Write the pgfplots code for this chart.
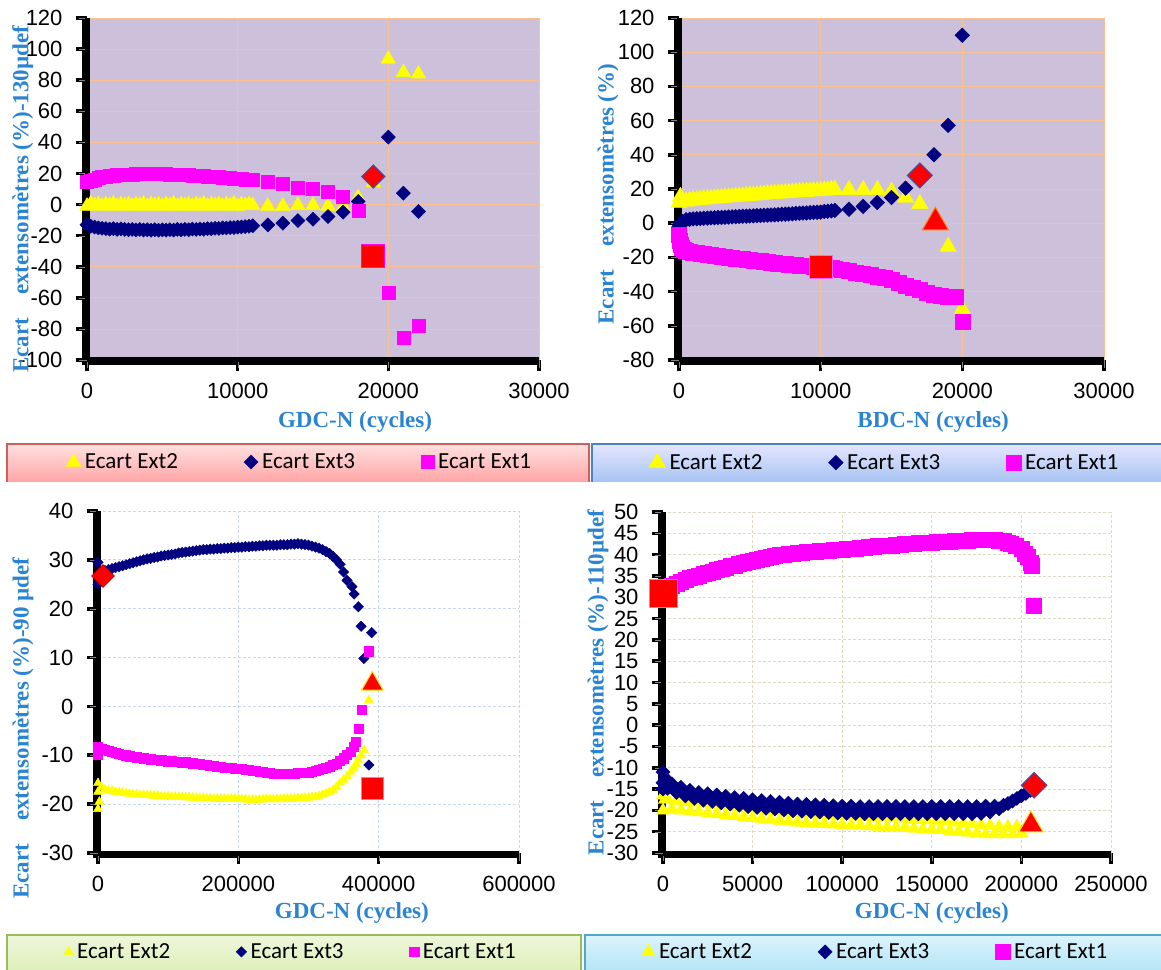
\documentclass[border=0pt]{standalone}
\usepackage{pgfplots}
\pgfplotsset{compat=1.18}
\usepackage{fontspec}
\newfontfamily\arialf{Liberation Sans}
\newfontfamily\timesf{Liberation Serif}
\newfontfamily\calf{Carlito}
\definecolor{lav}{HTML}{CCC0DA}
\definecolor{gridor}{HTML}{FAC090}
\definecolor{gridbl}{HTML}{C6D9F1}
\definecolor{gridbe}{HTML}{DDD9C3}
\definecolor{labblue}{HTML}{2A84D2}
\definecolor{yel}{HTML}{FFFF00}
\definecolor{nav}{HTML}{000080}
\definecolor{mag}{HTML}{FF00FF}
\definecolor{hred}{HTML}{FF0000}
\pgfplotsset{
  base/.style={
    scale only axis, clip=false,
    axis lines*=left,
    axis line style={line width=5pt, black, -},
    tick align=outside,
    major tick length=8pt,
    grid=major,
    scaled ticks=false,
    xticklabel style={/pgf/number format/fixed, /pgf/number format/1000 sep={}, yshift=-12pt},
    yticklabel style={xshift=-13pt},
    tick label style={font=\arialf\fontsize{22}{26}\selectfont},
    label style={font=\timesf\bfseries\fontsize{23}{27}\selectfont, text=labblue},
    ylabel style={anchor=center},
    xlabel style={anchor=center},
    legend columns=3,
    legend style={draw=none, fill=none, anchor=west,
      font=\calf\fontsize{23}{27}\selectfont, nodes={inner sep=0pt},
      /tikz/every odd column/.append style={column sep=4pt},
      /tikz/every even column/.append style={column sep=66pt}},
    /pgf/number format/assume math mode=true,
  },
  topgrid/.style={axis background/.style={fill=lav}, major grid style={gridor, line width=0.8pt}},
  s2/.style={only marks, mark=triangle*, mark options={draw=yel, fill=yel}},
  s3/.style={only marks, mark=square*, mark options={rotate=45, draw=nav, fill=nav}},
  s1/.style={only marks, mark=square*, mark options={draw=mag, fill=mag}},
}
% Excel-like thick axis frame with outside tick stubs (decoration, drawn under each axis)
% #1 x0, #2 y0, #3 width, #4 height, #5 ymin, #6 y span, #7 y tick list, #8 x tick fractions
\newcommand{\outframe}[8]{%
  \fill[black] (#1pt-5pt,#2pt-5pt) rectangle (#1pt,#2pt+#4pt+2pt);
  \fill[black] (#1pt-5pt,#2pt-5pt) rectangle (#1pt+#3pt+2pt,#2pt);
  \foreach \v in {#7}{\pgfmathsetmacro\yy{#2+(\v-(#5))/#6*#4}%
    \fill[black] (#1pt-11pt,\yy pt-1.8pt) rectangle (#1pt,\yy pt+1.8pt);}
  \foreach \f in {#8}{\pgfmathsetmacro\xx{#1+\f*#3}%
    \fill[black] (\xx pt-1.8pt,#2pt-11pt) rectangle (\xx pt+1.8pt,#2pt);}
}
\begin{document}
\begin{tikzpicture}
\useasboundingbox (0pt,0pt) rectangle (1161pt,969pt);
% legend frames
\shade[top color=red!12, bottom color=red!35!white] (7pt,525pt) rectangle (589pt,487pt);
\draw[line width=1.5pt, color={rgb,255:red,205;green,95;blue,92}] (7pt,487pt) -- (7pt,525pt) -- (589pt,525pt) -- (589pt,487pt);
\shade[top color=blue!10, bottom color={rgb,255:red,166;green,196;blue,242}] (592pt,525pt) rectangle (1165pt,487pt);
\draw[line width=1.5pt, color={rgb,255:red,79;green,129;blue,189}] (592pt,487pt) -- (592pt,525pt) -- (1165pt,525pt);
\shade[top color={rgb,255:red,238;green,246;blue,220}, bottom color={rgb,255:red,220;green,240;blue,182}] (7pt,34pt) rectangle (581pt,-5pt);
\draw[line width=1.5pt, color={rgb,255:red,155;green,187;blue,89}] (7pt,-5pt) -- (7pt,34pt) -- (581pt,34pt) -- (581pt,-5pt);
\shade[top color={rgb,255:red,221;green,243;blue,251}, bottom color={rgb,255:red,176;green,228;blue,246}] (585pt,34pt) rectangle (1165pt,-5pt);
\draw[line width=1.5pt, color={rgb,255:red,75;green,172;blue,198}] (585pt,-5pt) -- (585pt,34pt) -- (1165pt,34pt);
% axis frames
\outframe{87}{609}{452}{342}{-100}{220}{-100,-80,-60,-40,-20,0,20,40,60,80,100,120}{0,0.33333,0.66667,1}
\outframe{679}{609}{425}{342}{-80}{200}{-80,-60,-40,-20,0,20,40,60,80,100,120}{0,0.33333,0.66667,1}
\outframe{98}{116}{421}{342}{-30}{70}{-30,-20,-10,0,10,20,30,40}{0,0.33333,0.66667,1}
\outframe{663}{116}{448}{341}{-30}{80}{-30,-25,-20,-15,-10,-5,0,5,10,15,20,25,30,35,40,45,50}{0,0.2,0.4,0.6,0.8,1}

% ---------------- Panel 1 ----------------
\begin{axis}[base, topgrid, at={(87pt,609pt)}, anchor=south west, width=452pt, height=342pt,
  xmin=0, xmax=30000, ymin=-100, ymax=120, xtick={0,10000,20000,30000}, ytick={-100,-80,...,120},
  xlabel={GDC-N (cycles)}, ylabel={Ecart\hspace{0.75em} extensomètres (\%)-130µdef},
  xlabel style={at={(axis description cs:0.593,-0.181)}},
  ylabel style={at={(axis description cs:-0.142,0.47)}},
  legend style={at={(axis description cs:-0.053,-0.298)}}]
\addplot[s2, mark size=8.5] coordinates {(0,-1) (250,0.5) (500,-0.5) (750,0) (1000,-1) (1250,0) (1500,-0.5) (1750,0.5) (2000,-1) (2250,0) (2500,-0.5) (2750,0) (3000,-1) (3250,0) (3500,-0.5) (3750,0.5) (4000,-1) (4250,0) (4500,-0.5) (4750,0) (5000,-1) (5250,0) (5500,-0.5) (5750,0.5) (6000,-1) (6250,0) (6500,-0.5) (6750,0) (7000,-1) (7250,0) (7500,-0.5) (7750,0.5) (8000,-1) (8250,0) (8500,-0.5) (8750,0) (9000,-1) (9250,0) (9500,-0.5) (9750,0.5) (10000,-1) (10250,0) (10500,-0.5) (10750,0) (11000,-0.5) (12000,-1) (13000,-1) (14000,-0.5) (15000,-0.5) (16000,-1) (17000,-1.5) (18000,4.5) (19000,14) (20000,93.6) (21000,85) (22000,84)};
\addlegendentry{Ecart Ext2}
\addplot[s3, mark size=5] coordinates {(0,-13) (250,-14) (500,-14.5) (750,-15) (1000,-15.3) (1250,-15.5) (1500,-15.8) (1750,-15.5) (2000,-16) (2250,-15.7) (2500,-16) (2750,-16.2) (3000,-16) (3250,-16.3) (3500,-16) (3750,-16.4) (4000,-16.2) (4250,-16.5) (4500,-16.2) (4750,-16.5) (5000,-16.3) (5250,-16.5) (5500,-16.2) (5750,-16.4) (6000,-16) (6250,-16.3) (6500,-16) (6750,-16.2) (7000,-15.8) (7250,-16) (7500,-15.7) (7750,-15.9) (8000,-15.5) (8250,-15.6) (8500,-15.3) (8750,-15.4) (9000,-15) (9250,-15.1) (9500,-14.8) (9750,-14.8) (10000,-14.5) (10250,-14.4) (10500,-14.2) (10750,-14) (11000,-13.7) (12000,-13.1) (13000,-12) (14000,-10.3) (15000,-9.4) (16000,-7.7) (17000,-4.9) (18000,2) (20000,43.4) (21000,7.3) (22000,-4.5)};
\addlegendentry{Ecart Ext3}
\addplot[s1, mark size=6.5] coordinates {(0,14.5) (250,15.3) (500,16.2) (750,17) (1000,17.6) (1250,18.1) (1500,18.5) (1750,18.8) (2000,19) (2250,19.2) (2500,19.3) (2750,19.4) (3000,19.5) (3250,19.6) (3500,19.7) (3750,19.8) (4000,19.8) (4250,19.8) (4500,19.8) (4750,19.7) (5000,19.7) (5250,19.6) (5500,19.5) (5750,19.4) (6000,19.3) (6250,19.1) (6500,19) (6750,18.9) (7000,18.8) (7250,18.6) (7500,18.5) (7750,18.3) (8000,18.2) (8250,18) (8500,17.8) (8750,17.6) (9000,17.4) (9250,17.2) (9500,17) (9750,16.8) (10000,16.6) (10250,16.4) (10500,16.2) (10750,16) (11000,15.8) (12000,14.8) (13000,13.1) (14000,11) (15000,10.5) (16000,8.4) (17000,5.2) (18000,-4.1) (20000,-57) (21000,-85.4) (22000,-78.1)};
\addlegendentry{Ecart Ext1}
\addplot[forget plot, only marks, mark=square*, mark size=11.5, mark options={fill=hred, draw=mag, line width=1pt}] coordinates {(19000,-33)};
\addplot[forget plot, only marks, mark=square*, mark size=8.2, mark options={rotate=45, fill=hred, draw=nav!70, line width=1pt}] coordinates {(19000,18)};
\end{axis}

% ---------------- Panel 2 ----------------
\begin{axis}[base, topgrid, at={(679pt,609pt)}, anchor=south west, width=425pt, height=342pt,
  xmin=0, xmax=30000, ymin=-80, ymax=120, xtick={0,10000,20000,30000}, ytick={-80,-60,...,120},
  xlabel={BDC-N (cycles)}, ylabel={Ecart\hspace{0.75em} extensomètres (\%)},
  xlabel style={at={(axis description cs:0.598,-0.181)}},
  ylabel style={at={(axis description cs:-0.167,0.485)}},
  legend style={at={(axis description cs:-0.078,-0.298)}}]
\addplot[s2, mark size=9.5] coordinates {(0,12) (100,15.5) (250,13) (500,12.8) (750,13.2) (1000,13.4) (1250,13.5) (1500,13.8) (1750,13.9) (2000,14.2) (2250,14.3) (2500,14.5) (2750,14.7) (3000,14.8) (3250,15) (3500,15.2) (3750,15.3) (4000,15.5) (4250,15.7) (4500,15.8) (4750,16) (5000,16.2) (5250,16.3) (5500,16.5) (5750,16.7) (6000,16.8) (6250,17) (6500,17.1) (6750,17.3) (7000,17.4) (7250,17.6) (7500,17.7) (7750,17.9) (8000,18) (8250,18.2) (8500,18.3) (8750,18.4) (9000,18.5) (9250,18.7) (9500,18.8) (9750,18.9) (10000,19) (10250,19.2) (10500,19.3) (10750,19.5) (11000,19.6) (12000,19.5) (13000,19.5) (14000,19.5) (15000,18.5) (16000,15) (17000,11.3) (19000,-13.7) (20000,-50.3)};
\addlegendentry{Ecart Ext2}
\addplot[s3, mark size=5.2] coordinates {(0,-2) (100,-0.5) (250,1) (500,2) (750,2.3) (1000,2.5) (1250,2.6) (1500,2.8) (1750,2.9) (2000,3) (2250,3.1) (2500,3.2) (2750,3.3) (3000,3.4) (3250,3.5) (3500,3.6) (3750,3.7) (4000,3.8) (4250,3.9) (4500,4) (4750,4.1) (5000,4.2) (5250,4.3) (5500,4.4) (5750,4.5) (6000,4.6) (6250,4.7) (6500,4.8) (6750,4.9) (7000,5) (7250,5.2) (7500,5.3) (7750,5.4) (8000,5.5) (8250,5.7) (8500,5.8) (8750,5.9) (9000,6) (9250,6.2) (9500,6.3) (9750,6.4) (10000,6.5) (10250,6.8) (10500,7) (10750,7.2) (11000,7.5) (12000,8.2) (13000,9.8) (14000,12.1) (15000,15) (16000,20.5) (18000,40) (19000,57.2) (20000,109.9)};
\addlegendentry{Ecart Ext3}
\addplot[s1, mark size=7.5] coordinates {(0,-7) (50,-10) (100,-12.5) (200,-14.5) (350,-15.5) (500,-16.3) (750,-16.8) (1000,-17.2) (1250,-17.5) (1500,-17.8) (1750,-18.1) (2000,-18.4) (2250,-18.7) (2500,-19) (2750,-19.2) (3000,-19.5) (3250,-19.7) (3500,-20) (3750,-20.2) (4000,-20.5) (4250,-20.7) (4500,-21) (4750,-21.2) (5000,-21.5) (5250,-21.7) (5500,-22) (5750,-22.2) (6000,-22.5) (6250,-22.7) (6500,-23) (6750,-23.2) (7000,-23.4) (7250,-23.6) (7500,-23.8) (7750,-24) (8000,-24.2) (8250,-24.4) (8500,-24.6) (8750,-24.8) (9000,-25) (9250,-25.1) (9500,-25.3) (9750,-25.4) (10000,-25.5) (10250,-25.8) (10500,-26) (10750,-26.2) (11000,-26.5) (11500,-27.3) (12000,-28) (12500,-28.8) (13000,-29.5) (13500,-30.3) (14000,-31) (14500,-32) (15000,-33) (15500,-35) (16000,-36.5) (16500,-37.5) (17000,-39) (17500,-40.5) (18000,-42) (18500,-42.5) (19000,-43) (19500,-43.2) (20000,-57.6)};
\addlegendentry{Ecart Ext1}
\addplot[forget plot, only marks, mark=square*, mark size=11.5, mark options={fill=hred, draw=mag!60, line width=1pt}] coordinates {(10000,-25.4)};
\addplot[forget plot, only marks, mark=square*, mark size=8.8, mark options={rotate=45, fill=hred, draw=nav!70, line width=1pt}] coordinates {(17000,27.9)};
\addplot[forget plot, only marks, mark=triangle*, mark size=15, mark options={fill=hred, draw=orange, line width=1pt}] coordinates {(18100,0.5)};
\end{axis}

% ---------------- Panel 3 ----------------
\begin{axis}[base, at={(98pt,116pt)}, anchor=south west, width=421pt, height=342pt,
  major grid style={gridbl, line width=0.8pt, dash pattern=on 3pt off 2pt},
  xmin=0, xmax=600000, ymin=-30, ymax=40, xtick={0,200000,400000,600000}, ytick={-30,-20,...,40},
  xlabel={GDC-N (cycles)}, ylabel={Ecart\hspace{0.75em} extensomètres (\%)-90 µdef},
  xlabel style={at={(axis description cs:0.603,-0.175)}},
  ylabel style={at={(axis description cs:-0.178,0.365)}},
  legend style={at={(axis description cs:-0.088,-0.289)}}]
\addplot[s2, mark size=5.2] coordinates {(0,-15.7) (0,-21) (0,-17.5) (2000,-19.5) (5000,-16.5) (10000,-17) (15000,-17.2) (20000,-17.3) (25000,-17.5) (30000,-17.6) (35000,-17.7) (40000,-17.8) (45000,-17.9) (50000,-18) (55000,-18) (60000,-18.1) (65000,-18.1) (70000,-18.2) (75000,-18.2) (80000,-18.3) (85000,-18.3) (90000,-18.4) (95000,-18.4) (100000,-18.4) (105000,-18.5) (110000,-18.5) (115000,-18.5) (120000,-18.6) (125000,-18.6) (130000,-18.6) (135000,-18.7) (140000,-18.7) (145000,-18.8) (150000,-18.8) (155000,-18.8) (160000,-18.8) (165000,-18.9) (170000,-18.9) (175000,-18.9) (180000,-18.9) (185000,-18.9) (190000,-18.9) (195000,-18.9) (200000,-18.9) (205000,-19) (210000,-19) (215000,-19.1) (220000,-19.1) (225000,-19.2) (230000,-19.1) (235000,-19) (240000,-19) (245000,-19) (250000,-19) (255000,-19) (260000,-19) (265000,-18.9) (270000,-18.9) (275000,-18.9) (280000,-18.9) (285000,-18.8) (290000,-18.8) (295000,-18.7) (300000,-18.7) (305000,-18.6) (310000,-18.5) (315000,-18.3) (320000,-18.1) (325000,-17.8) (330000,-17.5) (335000,-17.1) (340000,-16.5) (345000,-15.7) (350000,-15) (355000,-14.3) (360000,-13.4) (364000,-12.6) (368000,-11.8) (371000,-10.9) (375000,-10) (379000,-8.9) (386000,1.3)};
\addlegendentry{Ecart Ext2}
\addplot[s3, mark size=3.7] coordinates {(0,29.5) (0,25) (1000,26.5) (3000,27.5) (5000,27.6) (10000,27.8) (15000,28) (20000,28.2) (25000,28.4) (30000,28.6) (35000,28.8) (40000,29) (45000,29.2) (50000,29.4) (55000,29.6) (60000,29.8) (65000,30) (70000,30.2) (75000,30.3) (80000,30.5) (85000,30.6) (90000,30.8) (95000,30.9) (100000,31) (105000,31.1) (110000,31.2) (115000,31.4) (120000,31.5) (125000,31.6) (130000,31.7) (135000,31.8) (140000,31.9) (145000,32) (150000,32.1) (155000,32.1) (160000,32.2) (165000,32.2) (170000,32.3) (175000,32.3) (180000,32.4) (185000,32.4) (190000,32.5) (195000,32.5) (200000,32.6) (205000,32.6) (210000,32.7) (215000,32.7) (220000,32.8) (225000,32.8) (230000,32.9) (235000,32.9) (240000,33) (245000,33) (250000,33) (255000,33) (260000,33.1) (265000,33.1) (270000,33.1) (275000,33.2) (280000,33.2) (285000,33.3) (290000,33.2) (295000,33.1) (300000,33) (305000,32.8) (310000,32.6) (315000,32.4) (320000,32.1) (325000,31.7) (330000,31.3) (335000,30.7) (340000,30) (345000,29.1) (350000,27.5) (355000,25.8) (362000,24.5) (365000,23) (371000,20.4) (375000,16.4) (379000,9.8) (386000,-12) (390000,15.1)};
\addlegendentry{Ecart Ext3}
\addplot[s1, mark size=4.6] coordinates {(0,-8.2) (0,-9.8) (5000,-8.6) (10000,-8.8) (15000,-9.1) (20000,-9.3) (25000,-9.5) (30000,-9.7) (35000,-9.9) (40000,-10) (45000,-10.2) (50000,-10.3) (55000,-10.4) (60000,-10.5) (65000,-10.6) (70000,-10.7) (75000,-10.8) (80000,-10.9) (85000,-10.9) (90000,-11) (95000,-11.1) (100000,-11.2) (105000,-11.2) (110000,-11.3) (115000,-11.3) (120000,-11.4) (125000,-11.4) (130000,-11.5) (135000,-11.6) (140000,-11.7) (145000,-11.8) (150000,-11.9) (155000,-12) (160000,-12.1) (165000,-12.2) (170000,-12.3) (175000,-12.4) (180000,-12.5) (185000,-12.5) (190000,-12.6) (195000,-12.7) (200000,-12.8) (205000,-12.8) (210000,-12.9) (215000,-13) (220000,-13.1) (225000,-13.2) (230000,-13.3) (235000,-13.4) (240000,-13.5) (245000,-13.6) (250000,-13.7) (255000,-13.7) (260000,-13.7) (265000,-13.7) (270000,-13.7) (275000,-13.7) (280000,-13.7) (285000,-13.6) (290000,-13.6) (295000,-13.5) (300000,-13.5) (305000,-13.3) (310000,-13.2) (315000,-13) (320000,-12.8) (325000,-12.6) (330000,-12.3) (335000,-12) (340000,-11.7) (345000,-11.1) (350000,-10.6) (355000,-9.9) (360000,-9.2) (364000,-8.3) (367000,-7.2) (371000,-4.5) (376000,-0.6) (386000,11.3)};
\addlegendentry{Ecart Ext1}
\addplot[forget plot, only marks, mark=square*, mark size=11, mark options={fill=hred, draw=mag!60, line width=1pt}] coordinates {(391000,-16.9)};
\addplot[forget plot, only marks, mark=square*, mark size=8, mark options={rotate=45, fill=hred, draw=hred!80!black, line width=0.8pt}] coordinates {(7000,26.7)};
\addplot[forget plot, only marks, mark=triangle*, mark size=12.5, mark options={fill=hred, draw=yel!80!orange, line width=1pt}] coordinates {(391000,4.6)};
\end{axis}

% ---------------- Panel 4 ----------------
\begin{axis}[base, at={(663pt,116pt)}, anchor=south west, width=448pt, height=341pt,
  major grid style={gridbe, line width=0.8pt, dash pattern=on 3pt off 2pt},
  xmin=0, xmax=250000, ymin=-30, ymax=50, xtick={0,50000,100000,150000,200000,250000}, ytick={-30,-25,...,50},
  xlabel={GDC-N (cycles)}, ylabel={Ecart\hspace{0.75em} extensomètres (\%)-110µdef},
  xlabel style={at={(axis description cs:0.6,-0.176)}},
  ylabel style={at={(axis description cs:-0.145,0.5)}},
  legend style={at={(axis description cs:-0.054,-0.29)}}]
\addplot[s2, mark size=7.5] coordinates {(0,-16.5) (0,-20) (1000,-17.5) (2500,-17.3) (5000,-19.7) (7500,-17.8) (10000,-20) (12500,-18) (15000,-20.2) (17500,-18.2) (20000,-20.4) (22500,-18.5) (25000,-20.7) (27500,-18.7) (30000,-20.9) (32500,-18.9) (35000,-21.1) (37500,-19.1) (40000,-21.3) (42500,-19.4) (45000,-21.6) (47500,-19.6) (50000,-21.8) (52500,-19.8) (55000,-22) (57500,-20) (60000,-22.2) (62500,-20.2) (65000,-22.4) (67500,-20.4) (70000,-22.6) (72500,-20.6) (75000,-22.8) (77500,-20.8) (80000,-23) (82500,-20.9) (85000,-23.1) (87500,-21) (90000,-23.2) (92500,-21.1) (95000,-23.3) (97500,-21.2) (100000,-23.4) (102500,-21.3) (105000,-23.5) (107500,-21.4) (110000,-23.6) (112500,-21.5) (115000,-23.7) (117500,-21.6) (120000,-23.8) (122500,-21.7) (125000,-23.9) (127500,-21.8) (130000,-24) (132500,-21.9) (135000,-24.1) (137500,-22.1) (140000,-24.3) (142500,-22.2) (145000,-24.4) (147500,-22.3) (150000,-24.5) (152500,-22.4) (155000,-24.6) (157500,-22.6) (160000,-24.8) (162500,-22.8) (165000,-25) (167500,-23) (170000,-25.2) (172500,-23.2) (175000,-25.4) (177500,-23.4) (180000,-25.6) (182500,-23.6) (185000,-25.6) (187500,-23.8) (190000,-25.6) (192500,-23.8) (195000,-25.6) (197500,-23.8) (200000,-25.4) (203000,-24)};
\addlegendentry{Ecart Ext2}
\addplot[s3, mark size=5] coordinates {(0,-11) (0,-13.5) (0,-15) (1500,-12.5) (2500,-14.8) (5000,-13.8) (7500,-15.8) (10000,-14.6) (12500,-16.6) (15000,-15.3) (17500,-17.2) (20000,-15.8) (22500,-17.6) (25000,-16.1) (27500,-17.9) (30000,-16.4) (32500,-18.2) (35000,-16.7) (37500,-18.5) (40000,-17) (42500,-18.8) (45000,-17.2) (47500,-19.1) (50000,-17.5) (52500,-19.3) (55000,-17.7) (57500,-19.5) (60000,-17.9) (62500,-19.7) (65000,-18.1) (67500,-19.9) (70000,-18.3) (72500,-20.1) (75000,-18.5) (77500,-20.2) (80000,-18.6) (82500,-20.3) (85000,-18.7) (87500,-20.4) (90000,-18.8) (92500,-20.5) (95000,-18.9) (97500,-20.6) (100000,-19) (102500,-20.7) (105000,-19) (107500,-20.7) (110000,-19.1) (112500,-20.8) (115000,-19.1) (117500,-20.8) (120000,-19.1) (122500,-20.8) (125000,-19.1) (127500,-20.8) (130000,-19.1) (132500,-20.8) (135000,-19.1) (137500,-20.8) (140000,-19.1) (142500,-20.8) (145000,-19.1) (147500,-20.8) (150000,-19.1) (152500,-20.8) (155000,-19.1) (157500,-20.8) (160000,-19.1) (162500,-20.8) (165000,-19.1) (167500,-20.8) (170000,-19.1) (172500,-20.8) (175000,-19.1) (177500,-20.7) (180000,-19) (182500,-20.4) (185000,-19) (187500,-19.6) (190000,-18.8) (192500,-18.4) (195000,-17.8) (197500,-17.2) (200000,-16.6) (202500,-16) (205000,-15.3)};
\addlegendentry{Ecart Ext3}
\addplot[s1, mark size=7.5] coordinates {(0,31) (2500,32) (5000,32.6) (7500,33.2) (10000,33.7) (12500,34.2) (15000,34.5) (17500,34.8) (20000,35.1) (22500,35.5) (25000,35.8) (27500,36.1) (30000,36.4) (32500,36.7) (35000,37) (37500,37.3) (40000,37.5) (42500,37.8) (45000,38) (47500,38.3) (50000,38.5) (52500,38.8) (55000,39) (57500,39.3) (60000,39.5) (62500,39.7) (65000,39.9) (67500,40) (70000,40.2) (72500,40.3) (75000,40.4) (77500,40.5) (80000,40.6) (82500,40.7) (85000,40.8) (87500,40.9) (90000,41) (92500,41) (95000,41.1) (97500,41.2) (100000,41.2) (102500,41.3) (105000,41.4) (107500,41.5) (110000,41.6) (112500,41.7) (115000,41.8) (117500,41.9) (120000,42) (122500,42) (125000,42.1) (127500,42.2) (130000,42.3) (132500,42.4) (135000,42.5) (137500,42.5) (140000,42.6) (142500,42.7) (145000,42.8) (147500,42.8) (150000,42.9) (152500,43) (155000,43) (157500,43.1) (160000,43.1) (162500,43.2) (165000,43.2) (167500,43.3) (170000,43.3) (172500,43.4) (175000,43.4) (177500,43.4) (180000,43.4) (182500,43.4) (185000,43.4) (187500,43.3) (190000,43.2) (192500,42.9) (194000,42.6) (197000,42) (200000,41.4) (202000,40.3) (203500,39.4) (205300,38) (206000,37.5) (207100,28.1)};
\addlegendentry{Ecart Ext1}
\addplot[forget plot, only marks, mark=square*, mark size=14, mark options={fill=hred, draw=mag!60, line width=1pt}] coordinates {(0,30.8)};
\addplot[forget plot, only marks, mark=square*, mark size=9, mark options={rotate=45, fill=hred, draw=nav!70, line width=1pt}] coordinates {(207100,-14.1)};
\addplot[forget plot, only marks, mark=triangle*, mark size=14, mark options={fill=hred, draw=yel!80!orange, line width=1pt}] coordinates {(205300,-23.4)};
\end{axis}
\end{tikzpicture}
\end{document}
